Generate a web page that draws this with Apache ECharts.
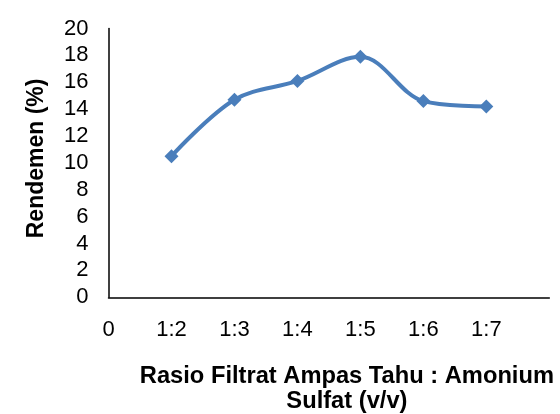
<!DOCTYPE html>
<html>
<head>
<meta charset="utf-8">
<script src="https://cdn.jsdelivr.net/npm/echarts@6/dist/echarts.min.js"></script>
<style>
  html, body { margin: 0; padding: 0; background: #fff; }
  #chart { width: 560px; height: 414px; }
</style>
</head>
<body>
<div id="chart"></div>
<script>
  // rasio filtrat : amonium sulfat, plotted at x = 1..6
  var ratioPos = [1, 2, 3, 4, 5, 6]
  var rendemen = [10.5, 14.7, 16.1, 17.9, 14.6, 14.2]
  var xTickLabels = ['0', '1:2', '1:3', '1:4', '1:5', '1:6', '1:7', '']

  var seriesData = ratioPos.map(function (x, i) {
    return [x, rendemen[i]]
  })

  var chart = echarts.init(document.getElementById('chart'))
  var option = {
    animation: false,
    textStyle: { fontFamily: 'Liberation Sans, Arial, sans-serif' },
    grid: {
      left: 108.5,
      right: 10.7,
      top: 28.5,
      bottom: 116.7,
      containLabel: false,
      outerBoundsMode: 'none'
    },
    xAxis: {
      type: 'value',
      min: 0,
      max: 7,
      interval: 1,
      name: 'Rasio Filtrat Ampas Tahu : Amonium\nSulfat (v/v)',
      nameLocation: 'middle',
      nameGap: 67,
      nameTextStyle: {
        color: '#000',
        fontSize: 23.7,
        fontWeight: 'bold',
        lineHeight: 25,
        padding: [0, 0, 0, 36]
      },
      axisLine: { lineStyle: { color: '#000', width: 1.5 } },
      axisTick: { show: false },
      splitLine: { show: false },
      axisLabel: {
        color: '#000',
        fontSize: 22,
        margin: 22,
        formatter: function (v) {
          return xTickLabels[v] || ''
        }
      }
    },
    yAxis: {
      type: 'value',
      min: 0,
      max: 20,
      interval: 2,
      name: 'Rendemen (%)',
      nameLocation: 'middle',
      nameGap: 60,
      nameTextStyle: {
        color: '#000',
        fontSize: 23,
        fontWeight: 'bold',
        padding: [0, 0, 0, 9]
      },
      axisLine: { show: true, lineStyle: { color: '#000', width: 1.5 } },
      axisTick: { show: false },
      splitLine: { show: false },
      axisLabel: {
        color: '#000',
        fontSize: 22,
        margin: 20
      }
    },
    series: [{
      type: 'line',
      data: seriesData,
      smooth: 0.35,
      symbol: 'diamond',
      symbolSize: 14,
      lineStyle: { color: '#4A7EBB', width: 4 },
      itemStyle: { color: '#4A7EBB' }
    }]
  }
  chart.setOption(option)
</script>
</body>
</html>
